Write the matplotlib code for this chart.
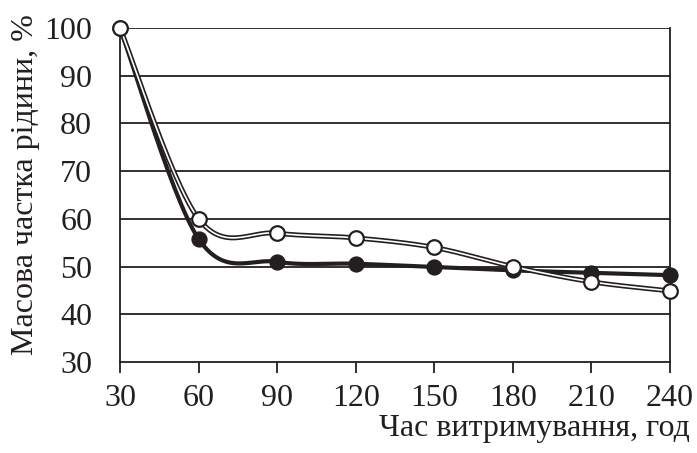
import numpy as np
import matplotlib
matplotlib.use("Agg")
from matplotlib import pyplot as plt

# data
hours = [30, 60, 90, 120, 150, 180, 210, 240]
filled = [100, 55.8, 51.0, 50.6, 49.9, 49.2, 48.7, 48.2]
hollow = [100, 60.0, 57.0, 56.0, 54.0, 50.0, 46.8, 44.9]
xticks = [30, 60, 90, 120, 150, 180, 210, 240]
yticks = [30, 40, 50, 60, 70, 80, 90, 100]


def smooth(x, y, n=30):
    """Excel-like smoothed line: cubic Bezier segments with Catmull-Rom handles."""
    # work in display-ish units so the handles match the look of the chart
    x = np.asarray(x, float)
    y = np.asarray(y, float)
    sx = 550. / 210.
    sy = 334. / 70.
    p = np.column_stack((x * sx, y * sy))
    out = [p[0]]
    t = np.linspace(0, 1, n)[1:, None]
    for i in range(len(p) - 1):
        p0 = p[i - 1] if i > 0 else p[i]
        p3 = p[i + 2] if i + 2 < len(p) else p[i + 1]
        c1 = p[i] + (p[i + 1] - p0) / 6.
        c2 = p[i + 1] - (p3 - p[i]) / 6.
        seg = ((1 - t) ** 3 * p[i] + 3 * (1 - t) ** 2 * t * c1
               + 3 * (1 - t) * t ** 2 * c2 + t ** 3 * p[i + 1])
        out.extend(seg)
    out = np.array(out)
    return out[:, 0] / sx, out[:, 1] / sy


plt.rcParams['font.family'] = ['Liberation Serif', 'DejaVu Serif']
ink = '#231f20'

fig = plt.figure(figsize=(6.97, 4.53), dpi=100)
ax = fig.add_axes([120 / 697., 1 - 362 / 453., 550 / 697., 334 / 453.])

for v in yticks[1:]:
    ax.axhline(v, color=ink, lw=1.3, zorder=1)

sx, sy = smooth(hours, filled)
ax.plot(sx, sy, color=ink, lw=3.0, zorder=3, solid_capstyle='round')
hx, hy = smooth(hours, hollow)
ax.plot(hx, hy, color=ink, lw=3.6, zorder=4, solid_capstyle='round')
ax.plot(hx, hy, color='white', lw=1.2, zorder=5, solid_capstyle='round')

ax.plot(hours, filled, 'o', ms=10.5, mfc=ink, mec=ink, mew=1.2, zorder=6, clip_on=False)
ax.plot(hours, hollow, 'o', ms=10.5, mfc='white', mec=ink, mew=1.6, zorder=7, clip_on=False)

ax.set_xlim(30, 240)
ax.set_ylim(30, 100)
ax.set_xticks(xticks)
ax.set_yticks(yticks)
ax.tick_params(axis='x', direction='out', length=8, width=1.3, color=ink,
               labelsize=23, pad=8, labelcolor=ink)
ax.tick_params(axis='y', length=0, labelsize=23, pad=20, labelcolor=ink)
for s in ax.spines.values():
    s.set_color(ink)
    s.set_linewidth(1.3)
ax.spines['top'].set_visible(False)

fig.text(0.036, 0.592, 'Масова частка рідини, %', rotation=90, fontsize=23,
         ha='center', va='center', color=ink)
fig.text(0.99, 0.037, 'Час витримування, год', fontsize=23,
         ha='right', va='baseline', color=ink)

fig.savefig('out.png', dpi=100)
